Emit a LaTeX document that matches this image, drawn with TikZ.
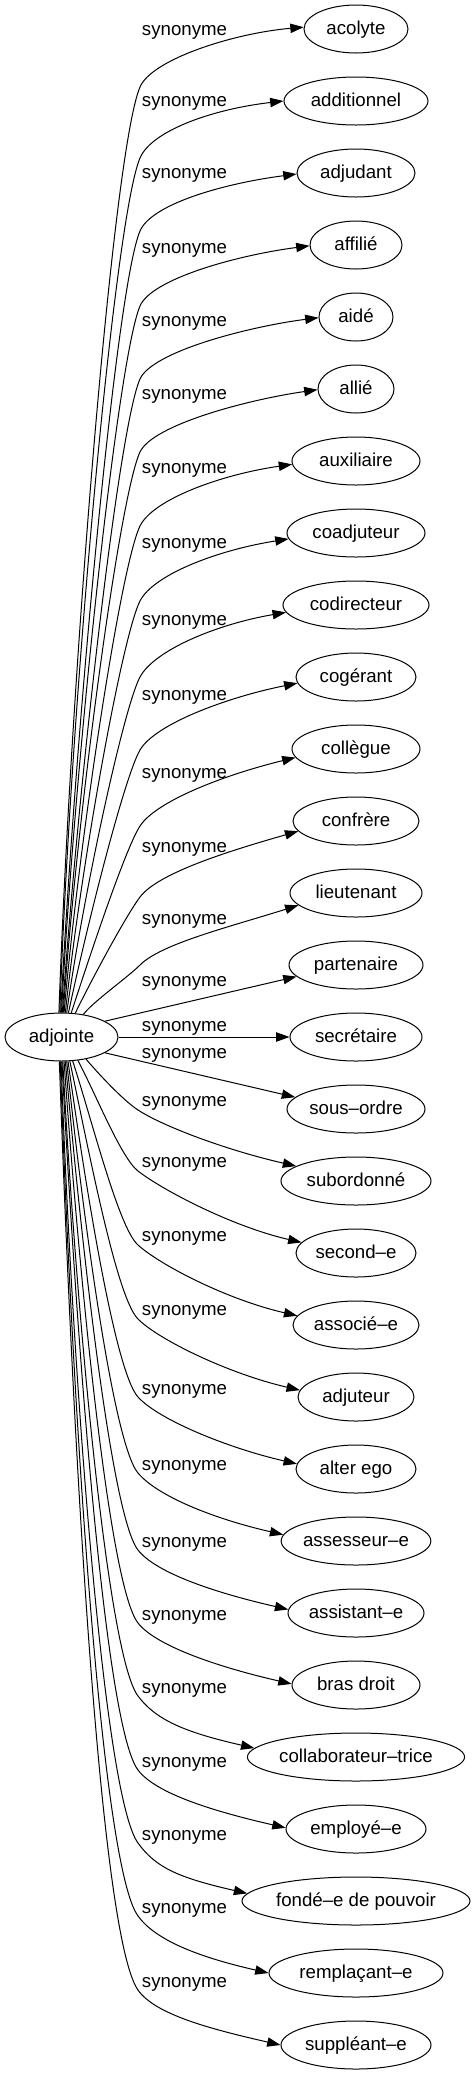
\documentclass[tikz,border=0pt]{standalone}
\usepackage{fontspec}
\setmainfont{Liberation Sans}
\usetikzlibrary{shapes.geometric,arrows.meta}
\begin{document}
\begin{tikzpicture}[x=0.75pt,y=-0.75pt,
  txt/.style={font=\fontsize{14pt}{16pt}\selectfont, text height=10pt, text depth=2.5pt, inner sep=0pt},
  word/.style={txt, draw, ellipse, line width=0.75pt, minimum height=36pt},
  lbl/.style={txt},
  syn/.style={line width=0.75pt, -{Triangle[length=10pt,width=7pt]}}]
\useasboundingbox (0,0) rectangle (475,2075);
\node[word, minimum width=84.75pt] (adj) at (61.5,1037) {adjointe};
% edges going up
\foreach \vi/\vn/\vr/\vyl/\vsa/\vbe/\vh/\val/\vea/\vev in {
0/acolyte/52/30/96/88/57/67/178/6,
1/additionnel/72/101/94/88/57/67/180/8,
2/adjudant/59/173/92/87/58/67/181/9,
3/affilié/46/248/90/87/58/67/181/9,
4/aidé/37/321/88/86/58/66/181/9,
5/allié/38/394/86/86/58/65/181/10,
6/auxiliaire/64/468/84/85/58/64/183/10,
7/coadjuteur/69/543/81/84/58/63/185/11,
8/codirecteur/73/620/78/82/57/62/186/12,
9/cogérant/60/695/74/78/55/60/186/14,
10/collègue/64/773/68/72/53/57/188/17,
11/confrère/63/847/60/64/50/53/190/20,
12/lieutenant/66/919/46/52/46/45/192/22}
{
  \pgfmathsetmacro\vw{\vr*1.5}
  \node[word, minimum width=\vw pt] (n\vi) at (356,{29+72*\vi}) {\vn};
  \node[lbl] (l\vi) at (184.5,\vyl) {synonyme};
  \coordinate (w\vi) at (140,{\vyl+\vh});
  \pgfmathsetmacro\vD{1013-\vyl-\vh}
  \pgfmathsetmacro\cax{cos(\vbe)*0.35*\vD}
  \pgfmathsetmacro\cay{-sin(\vbe)*0.35*\vD}
  \pgfmathsetmacro\vk{0.06*\vD+15}
  \pgfmathsetmacro\cbx{-cos(\val)*\vk}
  \pgfmathsetmacro\cby{sin(\val)*\vk}
  \pgfmathsetmacro\ccx{cos(\val)*30}
  \pgfmathsetmacro\ccy{-sin(\val)*30}
  \draw[syn] (adj.\vsa) .. controls +(\cax,\cay) and +(\cbx,\cby) .. (w\vi) .. controls +(\ccx,\ccy) and +(-70,\vev) .. (n\vi.\vea);
}
% nearly straight edges
\node[word, minimum width=100.5pt] (n13) at (356,965) {partenaire};
\node[lbl] (l13) at (184.5,981) {synonyme};
\draw[syn] (adj.20) -- (n13.191);
\node[word, minimum width=99pt] (n14) at (356,1037) {secrétaire};
\node[lbl] (l14) at (184.5,1026) {synonyme};
\draw[syn] (adj.east) -- (n14.west);
\node[word, minimum width=103.5pt] (n15) at (356,1109) {sous–ordre};
\node[lbl] (l15) at (184.5,1053) {synonyme};
\draw[syn] (adj.340) -- (n15.169);
% edges going down
\foreach \vi/\vn/\vr/\vyl/\vsa/\vbe/\vh/\val/\vea/\vev in {
16/subordonné/75/1101/318/50/9/33/166/16,
17/second–e/60/1162/305/62/9/38/169/16,
18/associé–e/63/1236/295/72/9/42/171/16,
19/adjuteur/58/1310/289/78/9/45/173/16,
20/alter ego/60/1389/285/82/8/48/175/16,
21/assesseur–e/73/1465/282/84/8/50/175/16,
22/assistant–e/68/1542/279/85/8/52/177/16,
23/bras droit/64/1615/276/86/8/52/179/16,
24/collaborateur–trice/106/1688/273/87/8/53/175/16,
25/employé–e/70/1762/271/87/8/53/179/16,
26/fondé–e de pouvoir/114/1835/269/88/8/54/176/16,
27/remplaçant–e/87/1908/267/88/8/54/180/16,
28/suppléant–e/75/1982/265/88/8/55/180/16}
{
  \pgfmathsetmacro\vw{\vr*1.5}
  \node[word, minimum width=\vw pt] (n\vi) at (356,{29+72*\vi}) {\vn};
  \node[lbl] (l\vi) at (184.5,\vyl) {synonyme};
  \coordinate (w\vi) at (138,{\vyl+\vh});
  \pgfmathsetmacro\vD{\vyl+\vh-1061}
  \pgfmathsetmacro\cax{cos(\vbe)*0.35*\vD}
  \pgfmathsetmacro\cay{sin(\vbe)*0.35*\vD}
  \pgfmathsetmacro\vk{0.06*\vD+15}
  \pgfmathsetmacro\cbx{-cos(\val)*\vk}
  \pgfmathsetmacro\cby{-sin(\val)*\vk}
  \pgfmathsetmacro\ccx{cos(\val)*30}
  \pgfmathsetmacro\ccy{sin(\val)*30}
  \draw[syn] (adj.\vsa) .. controls +(\cax,\cay) and +(\cbx,\cby) .. (w\vi) .. controls +(\ccx,\ccy) and +(-70,-\vev) .. (n\vi.\vea);
}
\end{tikzpicture}
\end{document}
